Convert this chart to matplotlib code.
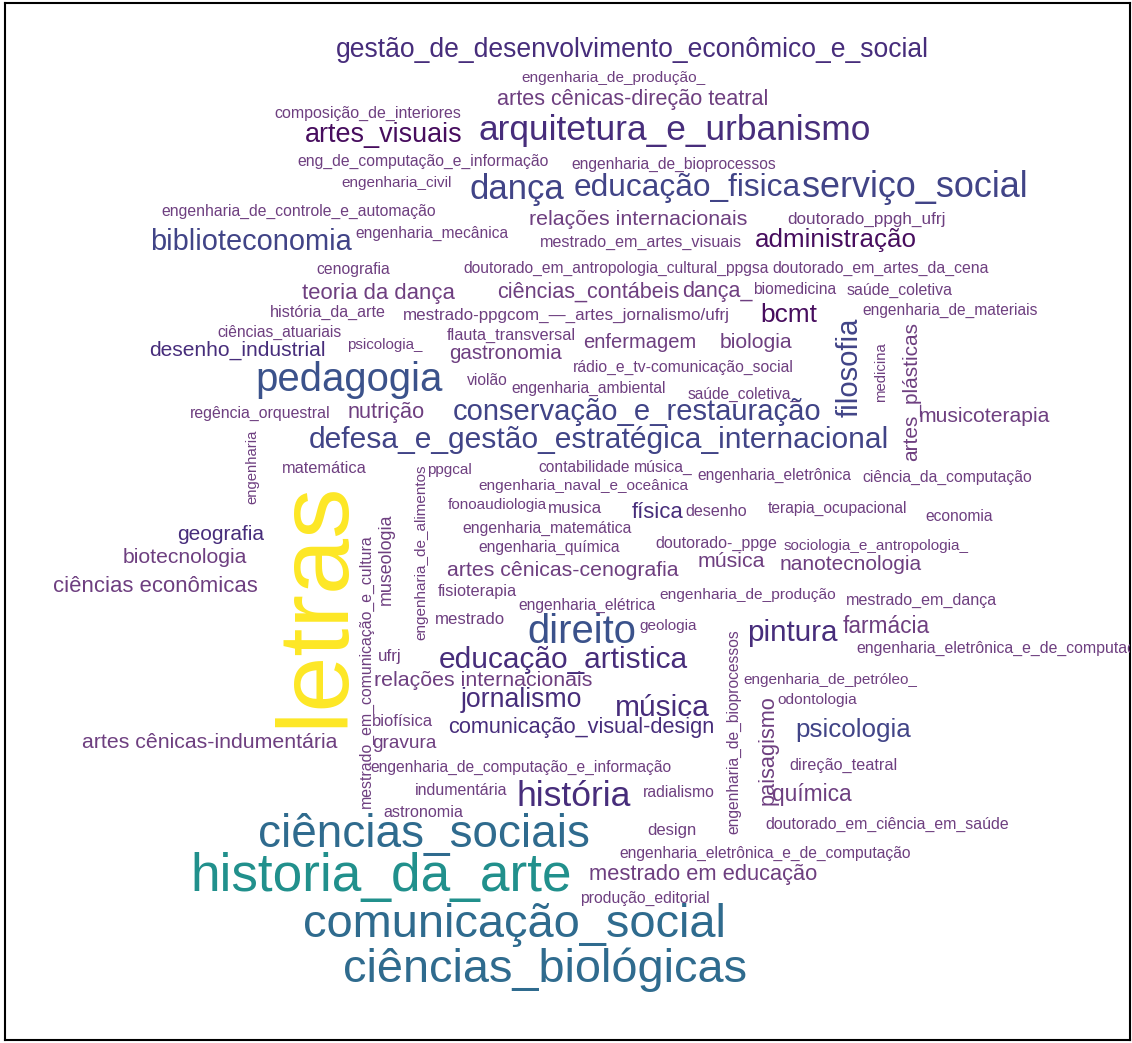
import numpy as np
import matplotlib.pyplot as plt

# Word cloud of courses: word and its frequency
words = [
    'gestão_de_desenvolvimento_econômico_e_social', 'engenharia_de_produção_',
    'artes cênicas-direção teatral', 'composição_de_interiores', 'artes_visuais',
    'arquitetura_e_urbanismo', 'eng_de_computação_e_informação', 'engenharia_de_bioprocessos',
    'engenharia_civil', 'dança', 'educação_fisica', 'serviço_social',
    'engenharia_de_controle_e_automação', 'relações internacionais', 'doutorado_ppgh_ufrj',
    'engenharia_mecânica', 'biblioteconomia', 'mestrado_em_artes_visuais', 'administração',
    'cenografia', 'doutorado_em_antropologia_cultural_ppgsa', 'doutorado_em_artes_da_cena',
    'teoria da dança', 'ciências_contábeis', 'dança_', 'biomedicina', 'saúde_coletiva',
    'história_da_arte', 'mestrado-ppgcom_—_artes_jornalismo/ufrj', 'bcmt',
    'engenharia_de_materiais', 'ciências_atuariais', 'flauta_transversal', 'enfermagem',
    'biologia', 'desenho_industrial', 'psicologia_', 'gastronomia',
    'rádio_e_tv-comunicação_social', 'pedagogia', 'violão', 'engenharia_ambiental',
    'saúde_coletiva_', 'regência_orquestral', 'nutrição', 'conservação_e_restauração',
    'musicoterapia', 'defesa_e_gestão_estratégica_internacional', 'matemática', 'ppgcal',
    'contabilidade', 'música_', 'engenharia_eletrônica', 'ciência_da_computação',
    'engenharia_naval_e_oceânica', 'fonoaudiologia', 'musica', 'física', 'desenho',
    'terapia_ocupacional', 'economia', 'engenharia_matemática', 'geografia',
    'engenharia_química', 'doutorado-_ppge', 'sociologia_e_antropologia_', 'biotecnologia',
    'música', 'nanotecnologia', 'artes cênicas-cenografia', 'ciências econômicas',
    'fisioterapia', 'engenharia_de_produção', 'mestrado_em_dança', 'engenharia_elétrica',
    'mestrado', 'direito', 'geologia', 'pintura', 'farmácia',
    'engenharia_eletrônica_e_de_computação', 'ufrj', 'educação_artistica',
    'relações internacionais', 'engenharia_de_petróleo_', 'odontologia', 'jornalismo',
    'música', 'biofísica', 'comunicação_visual-design', 'psicologia',
    'artes cênicas-indumentária', 'gravura', 'engenharia_de_computação_e_informação',
    'direção_teatral', 'indumentária', 'história', 'radialismo', 'química', 'astronomia',
    'doutorado_em_ciência_em_saúde', 'ciências_sociais', 'design',
    'engenharia_eletrônica_e_de_computação', 'historia_da_arte', 'mestrado em educação',
    'produção_editorial', 'comunicação_social', 'ciências_biológicas',
    'letras', 'filosofia', 'medicina', 'artes_plásticas', 'engenharia',
    'engenharia_de_alimentos', 'museologia', 'mestrado_em_comunicação_e_cultura',
    'engenharia_de_bioprocessos', 'paisagismo',
]
counts = [
    6, 1, 2, 1, 4, 7, 1, 1, 1, 9, 9, 9,
    1, 2, 1, 1, 9, 1, 4,
    1, 1, 1, 2, 2, 2, 1, 1,
    1, 1, 4, 1, 1, 1, 2, 2, 5, 1, 2,
    1, 11, 1, 1, 1, 1, 2, 8, 2, 8, 1, 1,
    1, 1, 1, 1, 1, 1, 1, 5, 1, 1, 1, 1, 5,
    1, 1, 1, 2, 2, 2, 2, 2, 1, 1, 1, 1,
    1, 10, 1, 5, 2, 1, 1, 5, 2, 1, 1, 5,
    6, 1, 5, 8, 2, 2, 1, 1, 1, 6, 1, 2, 1,
    1, 15, 1, 1, 20, 2, 1, 16, 14,
    45, 8, 2, 2, 1, 1, 1, 1, 1, 2,
]

# layout of the cloud (pixels from top-left of the image): centre x, centre y,
# length along the text, rotation
pos_x = [
    632, 613, 633, 368, 384, 675, 423, 674, 397, 517, 687, 915,
    299, 638, 867, 432, 251, 641, 836,
    353, 616, 881, 378, 588, 717, 795, 900,
    328, 566, 789, 950, 279, 511, 640, 756, 237, 385, 506,
    683, 349, 487, 589, 744, 260, 386, 637, 984, 599, 324, 449,
    584, 663, 774, 947, 583, 497, 575, 658, 716, 838, 959, 547, 221,
    549, 716, 876, 185, 731, 851, 563, 155, 477, 748, 921, 587,
    470, 582, 668, 792, 886, 1005, 390, 563, 483, 830, 817, 521,
    662, 402, 581, 853, 210, 404, 521, 844, 461, 574, 679, 812, 423,
    887, 424, 672, 765, 381, 703, 645, 514, 545,
    316, 850, 881, 911, 252, 421, 386, 366, 734, 768,
]
pos_y = [
    50, 78, 100, 113, 135, 131, 161, 164, 183, 190, 188, 188,
    211, 220, 219, 233, 242, 242, 240,
    270, 268, 268, 294, 292, 292, 290, 290,
    312, 315, 315, 310, 332, 335, 343, 343, 350, 345, 354,
    367, 380, 381, 388, 394, 413, 413, 412, 417, 440, 469, 470,
    468, 467, 475, 477, 486, 505, 509, 513, 512, 508, 517, 528, 535,
    547, 543, 546, 558, 562, 565, 571, 587, 592, 595, 600, 605,
    620, 632, 626, 633, 627, 648, 657, 660, 681, 680, 700, 700,
    708, 722, 728, 730, 743, 744, 767, 765, 791, 797, 793, 795, 813,
    824, 835, 831, 853, 877, 875, 898, 925, 970,
    604, 367, 372, 392, 467, 552, 559, 671, 732, 750,
]
lengths = [
    595, 185, 273, 187, 158, 394, 253, 205, 111, 95, 228, 227,
    275, 220, 159, 154, 202, 203, 163,
    74, 307, 217, 153, 183, 71, 84, 106,
    116, 327, 57, 176, 125, 129, 114, 73, 177, 76, 113,
    222, 188, 41, 155, 113, 141, 78, 369, 132, 582, 85, 45,
    92, 59, 155, 171, 210, 100, 54, 52, 62, 140, 68, 170, 88,
    142, 122, 187, 125, 68, 142, 233, 205, 79, 177, 152, 138,
    70, 110, 58, 91, 88, 297, 24, 250, 220, 175, 80, 122,
    95, 61, 268, 116, 256, 65, 303, 108, 93, 115, 72, 80, 80,
    245, 332, 49, 294, 383, 230, 130, 425, 405,
    248, 100, 60, 139, 75, 177, 92, 276, 205, 110,
]
rotations = [0] * 109 + [90] * 10

# colour by frequency band (viridis steps)
count_bins = [3, 5, 8, 10, 13, 18, 40]
band_colors = ['#6e3f80', '#470d5e', '#472d7b', '#414487', '#3b528b',
               '#2f6b8e', '#21908c', '#fde725']

W, H = 1132, 1043
fig = plt.figure(figsize=(W / 100, H / 100), dpi=100)
fig.patch.set_facecolor('white')
# axes box doubles as the black frame of the picture
x0, x1, y0, y1 = 5, 1130, 3, 1040
ax = fig.add_axes([x0 / W, (H - y1) / H, (x1 - x0) / W, (y1 - y0) / H])
ax.set_xlim(x0, x1)
ax.set_ylim(y1, y0)
ax.set_xticks([])
ax.set_yticks([])
for sp in ax.spines.values():
    sp.set_color('black')
    sp.set_linewidth(1.5)

fam = ['Liberation Sans', 'DejaVu Sans']
renderer = fig.canvas.get_renderer()
for word, cnt, x, y, length, rot in zip(words, counts, pos_x, pos_y, lengths, rotations):
    color = band_colors[np.digitize(cnt, count_bins)]
    t = ax.text(x, y, word, fontsize=10, family=fam, color=color,
                ha='center', va='center', clip_on=True)
    w = t.get_window_extent(renderer).width
    t.set_fontsize(10 * length / w)
    t.set_rotation(rot)

fig.savefig('out.png', dpi=100)
